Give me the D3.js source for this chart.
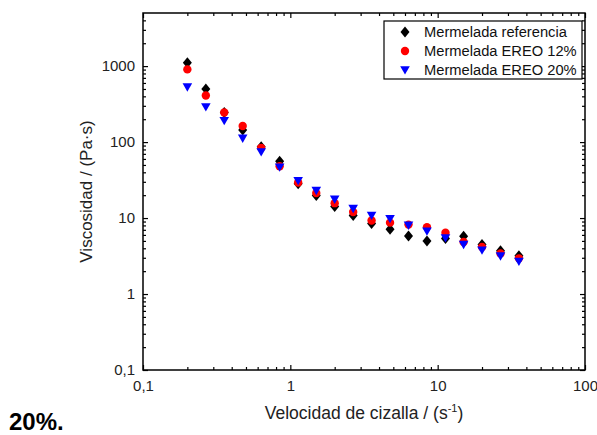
<!DOCTYPE html>
<html lang="es">
<head>
<meta charset="utf-8" />
<script src="https://cdnjs.cloudflare.com/ajax/libs/d3/7.8.5/d3.min.js"></script>
<style>
    body { margin: 0; background: #fff; }
    svg text { font-family: "Liberation Sans", Arial, sans-serif; }
</style>
</head>
<body>
<div id="chart"></div>
<script>
    // shear rate (s^-1)
    var shearRate = [0.2, 0.267, 0.356, 0.475, 0.634, 0.846, 1.13, 1.5, 2.0, 2.67,
        3.56, 4.75, 6.34, 8.46, 11.3, 15.0, 20.0, 26.7, 35.6];
    var viscRef = [1108, 500, 245, 144, 87, 56, 28.2, 19.8, 14.2, 10.8,
        8.45, 7.1, 5.8, 5.0, 5.4, 5.75, 4.5, 3.7, 3.18];
    var visc12 = [905, 410, 245, 163, 84, 48, 29.4, 21.3, 15.7, 12.0,
        9.3, 8.7, 8.2, 7.6, 6.4, 4.85, 4.17, 3.41, 2.95];
    var visc20 = [530, 290, 191, 112, 74, 46.6, 31, 23, 17.6, 13.3,
        10.8, 9.8, 8.0, 6.7, 5.47, 4.48, 3.77, 3.15, 2.68];
    var seriesNames = ["Mermelada referencia", "Mermelada EREO 12%", "Mermelada EREO 20%"];
    var seriesColors = ["#000000", "#ff0000", "#0000ff"];
    var xMajor = [0.1, 1, 10, 100];
    var yMajor = [0.1, 1, 10, 100, 1000];

    var width = 597, height = 435;
    // plot frame (careful: "top" is taken by window.top)
    var pL = 143, pR = 585, pT = 13, pB = 370;

    var svg = d3.select("#chart").append("svg")
        .attr("width", width)
        .attr("height", height);

    var x = d3.scaleLog().domain([0.1, 100]).range([pL, pR]);
    var y = d3.scaleLog().domain([0.1, 5000]).range([pB, pT]);

    var fmt = function (d) { return String(d).replace(".", ","); };

    // minor ticks: 2..9 in each decade
    var xMinor = [], yMinor = [];
    [0.1, 1, 10].forEach(function (p) {
        for (var k = 2; k <= 9; k++) xMinor.push(p * k);
    });
    [0.1, 1, 10, 100, 1000].forEach(function (p) {
        for (var k = 2; k <= 9; k++) if (p * k < 5000) yMinor.push(p * k);
    });

    function styleAxis(g) {
        g.attr("font-family", null);
        g.select(".domain").remove();
        g.selectAll("line").attr("stroke", "#000").attr("stroke-width", 1.2);
        g.selectAll("text")
            .attr("font-size", 15)
            .attr("fill", "#222");
    }

    // bottom
    svg.append("g").attr("transform", "translate(0," + pB + ")")
        .call(d3.axisBottom(x).tickValues(xMajor).tickSize(-5).tickPadding(10).tickFormat(fmt))
        .call(styleAxis);
    svg.append("g").attr("transform", "translate(0," + pB + ")")
        .call(d3.axisBottom(x).tickValues(xMinor).tickSize(-3).tickFormat(""))
        .call(styleAxis);
    // top
    svg.append("g").attr("transform", "translate(0," + pT + ")")
        .call(d3.axisTop(x).tickValues(xMajor).tickSize(-5).tickFormat(""))
        .call(styleAxis);
    svg.append("g").attr("transform", "translate(0," + pT + ")")
        .call(d3.axisTop(x).tickValues(xMinor).tickSize(-3).tickFormat(""))
        .call(styleAxis);
    // left
    svg.append("g").attr("transform", "translate(" + pL + ",0)")
        .call(d3.axisLeft(y).tickValues(yMajor).tickSize(-5).tickPadding(8).tickFormat(fmt))
        .call(styleAxis);
    svg.append("g").attr("transform", "translate(" + pL + ",0)")
        .call(d3.axisLeft(y).tickValues(yMinor).tickSize(-3).tickFormat(""))
        .call(styleAxis);
    // right
    svg.append("g").attr("transform", "translate(" + pR + ",0)")
        .call(d3.axisRight(y).tickValues(yMajor).tickSize(-5).tickFormat(""))
        .call(styleAxis);
    svg.append("g").attr("transform", "translate(" + pR + ",0)")
        .call(d3.axisRight(y).tickValues(yMinor).tickSize(-3).tickFormat(""))
        .call(styleAxis);

    // frame
    svg.append("rect")
        .attr("x", pL).attr("y", pT)
        .attr("width", pR - pL).attr("height", pB - pT)
        .attr("fill", "none")
        .attr("stroke", "#000")
        .attr("stroke-width", 1.5);

    // marker shapes
    function diamond(cx, cy) {
        return "M" + cx + "," + (cy - 5.5) + "L" + (cx + 4.5) + "," + cy +
            "L" + cx + "," + (cy + 5.5) + "L" + (cx - 4.5) + "," + cy + "Z";
    }
    function tri(cx, cy) {
        return "M" + (cx - 4.8) + "," + (cy - 3.8) + "L" + (cx + 4.8) + "," + (cy - 3.8) +
            "L" + cx + "," + (cy + 4.6) + "Z";
    }

    var series = [viscRef, visc12, visc20];
    var pts = series.map(function (vals) {
        return shearRate.map(function (s, i) { return { s: s, v: vals[i] }; });
    });

    svg.append("g").selectAll("path")
        .data(pts[0]).enter().append("path")
        .attr("d", function (d) { return diamond(x(d.s), y(d.v)); })
        .attr("fill", seriesColors[0]);

    svg.append("g").selectAll("circle")
        .data(pts[1]).enter().append("circle")
        .attr("cx", function (d) { return x(d.s); })
        .attr("cy", function (d) { return y(d.v); })
        .attr("r", 4.2)
        .attr("fill", seriesColors[1]);

    svg.append("g").selectAll("path")
        .data(pts[2]).enter().append("path")
        .attr("d", function (d) { return tri(x(d.s), y(d.v)); })
        .attr("fill", seriesColors[2]);

    // legend
    var legend = svg.append("g");
    legend.append("rect")
        .attr("x", 384).attr("y", 21)
        .attr("width", 198).attr("height", 58)
        .attr("fill", "#fff")
        .attr("stroke", "#000")
        .attr("stroke-width", 1.2);
    var rows = [32, 51, 70];
    legend.append("path").attr("d", diamond(405, rows[0])).attr("fill", seriesColors[0]);
    legend.append("circle").attr("cx", 405).attr("cy", rows[1]).attr("r", 4.2).attr("fill", seriesColors[1]);
    legend.append("path").attr("d", tri(405, rows[2])).attr("fill", seriesColors[2]);
    legend.selectAll("text.lg")
        .data(seriesNames).enter().append("text")
        .attr("class", "lg")
        .attr("x", 424)
        .attr("y", function (d, i) { return rows[i] + 5; })
        .attr("font-size", 14.7)
        .attr("fill", "#111")
        .text(function (d) { return d; });

    // axis titles
    svg.append("text")
        .attr("transform", "translate(92," + ((pT + pB) / 2) + ") rotate(-90)")
        .attr("text-anchor", "middle")
        .attr("font-size", 17)
        .attr("fill", "#222")
        .text("Viscosidad / (Pa·s)");

    var xt = svg.append("text")
        .attr("x", (pL + pR) / 2)
        .attr("y", 419)
        .attr("text-anchor", "middle")
        .attr("font-size", 17.5)
        .attr("fill", "#222");
    xt.append("tspan").text("Velocidad de cizalla / (s");
    xt.append("tspan").attr("font-size", 11).attr("dy", -7).text("-1");
    xt.append("tspan").attr("dy", 7).text(")");

    // stray caption from the source page
    svg.append("text")
        .attr("x", 9)
        .attr("y", 430)
        .attr("font-size", 24)
        .attr("font-weight", "bold")
        .attr("fill", "#000")
        .text("20%.");
</script>
</body>
</html>
